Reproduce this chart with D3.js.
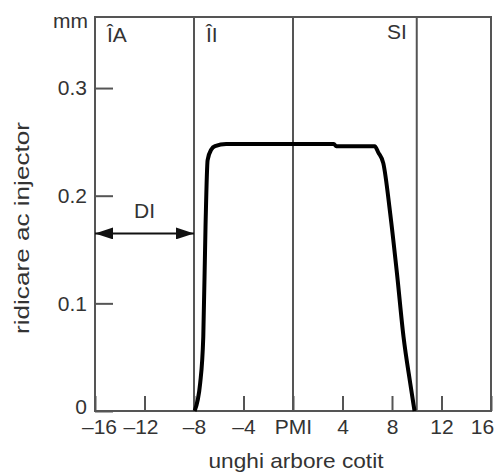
<!DOCTYPE html>
<html>
<head>
<meta charset="utf-8">
<script src="https://cdn.jsdelivr.net/npm/d3@7"></script>
<style>
  body { margin: 0; background: #fff; }
  svg text { font-family: "Liberation Sans", Arial, sans-serif; fill: #333; }
</style>
</head>
<body>
<div id="canvas"><svg width="500" height="473"></svg></div>
<script>
// needle lift vs crank angle
var liftAngle = [-7.95, -7.5, -7.25, -7.07, -6.9, -6.6, -6.3, -5.4, 3.3, 3.5, 6.6, 6.9, 7.3, 7.85, 8.4, 8.93, 9.47, 9.82];
var liftValue = [0, 0.026, 0.069, 0.171, 0.233, 0.243, 0.246, 0.248, 0.248, 0.246, 0.246, 0.240, 0.230, 0.184, 0.128, 0.069, 0.026, 0];

var xTicks = [-16, -12, -8, -4, 0, 4, 8, 12, 16];
var xTickLabels = ["\u201316", "\u201312", "\u20138", "\u20134", "PMI", "4", "8", "12", "16"];
var yTicks = [0, 0.1, 0.2, 0.3];
var yTickLabels = ["0", "0.1", "0.2", "0.3"];

// reference lines (ÎI, PMI, SI) and region labels
var markerAngles = [-8, 0, 10];
var regionNames = ["\u00CEA", "\u00CEI", "SI"];
var regionAngles = [-16, -8, 10];
var diRange = [-16, -8];
var diLevel = 0.165;

var svg = d3.select("#canvas svg"),
    margin = {top: 17, right: 9, bottom: 62, left: 95},
    width = 500 - margin.left - margin.right,
    height = 473 - margin.top - margin.bottom;

var g = svg.append("g").attr("transform", "translate(" + margin.left + "," + margin.top + ")");

var x = d3.scaleLinear().domain([-16, 16]).range([0, width]);
var y = d3.scaleLinear().domain([0, 0.366]).range([height, 0]);

var frameColor = "#555";

// arrowheads for DI
var defs = svg.append("defs");
["start", "end"].forEach(function (k) {
  defs.append("marker")
    .attr("id", "arrow-" + k)
    .attr("viewBox", "0 -6 18 12")
    .attr("refX", 18).attr("refY", 0)
    .attr("markerUnits", "userSpaceOnUse")
    .attr("markerWidth", 18).attr("markerHeight", 12)
    .attr("orient", k == "start" ? "auto-start-reverse" : "auto")
    .append("path")
    .attr("d", "M0,-6 L18,0 L0,6 Z")
    .attr("fill", "#111");
});

// y axis (ticks point inward)
var yAxis = g.append("g")
  .call(d3.axisLeft(y).tickValues(yTicks).tickSize(-18).tickPadding(8)
    .tickFormat(function (d, i) { return yTickLabels[i]; }));
yAxis.select(".domain").remove();
yAxis.selectAll(".tick line").attr("stroke", frameColor).attr("stroke-width", 2);
yAxis.selectAll(".tick text").attr("font-size", 21).attr("fill", "#333")
  .attr("font-family", "Liberation Sans, Arial, sans-serif");
yAxis.selectAll(".tick").filter(function (d) { return d === 0; })
  .select("text").attr("dy", "0.1em");

// x axis (ticks point upward, only where no reference line)
var xAxis = g.append("g").attr("transform", "translate(0," + height + ")")
  .call(d3.axisBottom(x).tickValues(xTicks).tickSize(-15).tickPadding(8)
    .tickFormat(function (d, i) { return xTickLabels[i]; }));
xAxis.select(".domain").remove();
xAxis.selectAll(".tick line").attr("stroke", frameColor).attr("stroke-width", 2);
xAxis.selectAll(".tick text").attr("font-size", 21).attr("fill", "#333")
  .attr("font-family", "Liberation Sans, Arial, sans-serif")
  .attr("dx", function (d) { return d === 16 ? -9 : d === -16 ? 4 : d === -12 ? -4 : 0; });

// reference lines
g.selectAll(".marker")
  .data(markerAngles)
  .enter().append("line")
  .attr("class", "marker")
  .attr("x1", function (d) { return x(d); })
  .attr("x2", function (d) { return x(d); })
  .attr("y1", 0).attr("y2", height)
  .attr("stroke", frameColor).attr("stroke-width", 2);

// frame
g.append("rect")
  .attr("width", width).attr("height", height)
  .attr("fill", "none").attr("stroke", frameColor).attr("stroke-width", 2);

// lift curve
var line = d3.line()
  .x(function (d, i) { return x(liftAngle[i]); })
  .y(function (d) { return y(d); })
  .curve(d3.curveMonotoneX);

g.append("path")
  .datum(liftValue)
  .attr("d", line)
  .attr("fill", "none")
  .attr("stroke", "#000")
  .attr("stroke-width", 4)
  .attr("stroke-linejoin", "round");

// DI arrow
g.append("line")
  .attr("x1", x(diRange[0])).attr("x2", x(diRange[1]))
  .attr("y1", y(diLevel)).attr("y2", y(diLevel))
  .attr("stroke", "#111").attr("stroke-width", 2)
  .attr("marker-start", "url(#arrow-start)")
  .attr("marker-end", "url(#arrow-end)");

g.append("text")
  .attr("x", (x(diRange[0]) + x(diRange[1])) / 2)
  .attr("y", y(diLevel) - 15)
  .attr("text-anchor", "middle")
  .attr("font-size", 21)
  .text("DI");

// region labels
g.selectAll(".region")
  .data(regionNames)
  .enter().append("text")
  .attr("class", "region")
  .attr("x", function (d, i) { return i == 2 ? x(regionAngles[i]) - 10 : x(regionAngles[i]) + 12; })
  .attr("y", function (d, i) { return i == 2 ? 22 : 25; })
  .attr("text-anchor", function (d, i) { return i == 2 ? "end" : "start"; })
  .attr("font-size", 21)
  .text(function (d) { return d; });

// unit label
g.append("text")
  .attr("x", -7).attr("y", 11)
  .attr("text-anchor", "end")
  .attr("font-size", 21)
  .text("mm");

// axis titles
svg.append("text")
  .attr("x", 296)
  .attr("y", 468)
  .attr("text-anchor", "middle")
  .attr("font-size", 21)
  .attr("textLength", 175)
  .attr("lengthAdjust", "spacingAndGlyphs")
  .text("unghi arbore cotit");

svg.append("text")
  .attr("transform", "translate(29,228) rotate(-90)")
  .attr("text-anchor", "middle")
  .attr("font-size", 21)
  .attr("textLength", 212)
  .attr("lengthAdjust", "spacingAndGlyphs")
  .text("ridicare ac injector");
</script>
</body>
</html>
